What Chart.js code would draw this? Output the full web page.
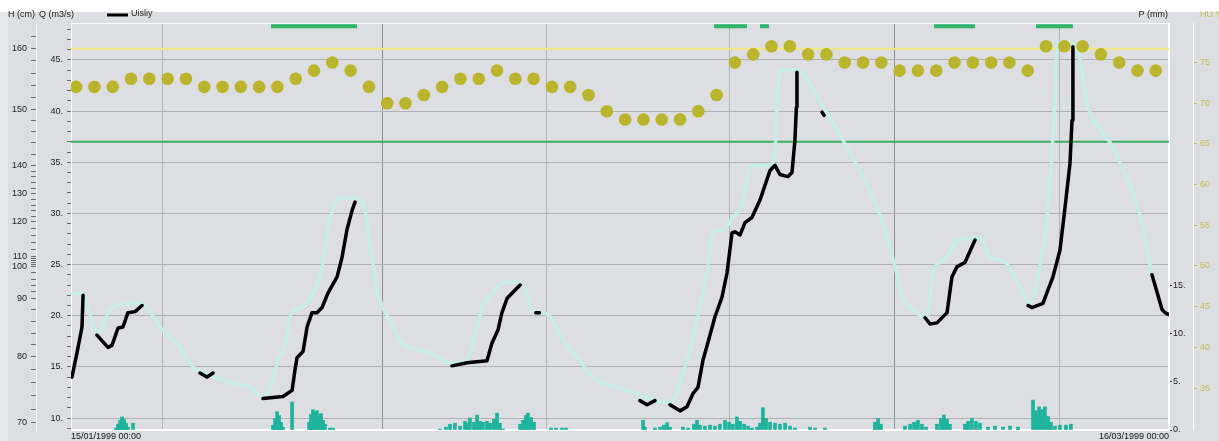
<!DOCTYPE html>
<html>
<head>
<meta charset="utf-8">
<title>Uisliy - H / Q / P / HU</title>
<script src="https://cdn.jsdelivr.net/npm/chart.js"></script>
<style>
    html, body { margin: 0; padding: 0; background: #dcdee1; }
    #wrap { width: 1219px; height: 441px; }
</style>
</head>
<body>
<div id="wrap"><canvas id="hydroChart" width="1219" height="441"></canvas></div>
<script>
// =========================================================
// Hydrograph: H / Q, rain P and soil moisture HU
// =========================================================

// ---------- Time axis (days after 15/01/1999 00:00) ----------
var dateStart = "15/01/1999 00:00";
var dateEnd = "16/03/1999 00:00";
var dayTicks = [0, 5, 17, 26, 36, 45, 54, 60];
var monthTicks = [17, 45];

// ---------- Observed Q (m3/s), "Uisliy"; null = gap ----------
var obsDay = [0.05, 0.33, 0.6, 0.66, 0.66,
    1.42, 2.02, 2.24, 2.57, 2.84, 3.11, 3.5, 3.88, 3.88,
    7.05, 7.43, 7.76, 7.76,
    10.49, 11.58, 12.08, 12.24, 12.35, 12.68, 12.9, 13.17, 13.44, 13.72, 14.04, 14.54, 14.81, 15.08, 15.36, 15.52, 15.52,
    20.82, 21.64, 22.73, 23.0, 23.33, 23.55, 23.83, 24.15, 24.54, 24.54,
    25.4, 25.6, 25.6,
    31.09, 31.48, 31.91, 31.91,
    32.73, 33.28, 33.66, 33.99, 34.26, 34.54, 34.81, 35.19, 35.57, 35.85, 36.12, 36.28, 36.56, 36.83, 37.21, 37.65, 38.2, 38.47, 38.74, 39.18, 39.4, 39.56, 39.64, 39.67, 39.67,
    41.04, 41.15, 41.15,
    46.67, 46.94, 47.32, 47.87, 48.14, 48.42, 48.85, 49.4, 49.4,
    52.3, 52.51, 53.11, 53.66, 54.04, 54.32, 54.59, 54.7, 54.75, 54.75,
    59.07, 59.62, 59.78, 60.0];
var obsQ = [14.0, 16.4, 18.9, 22.0, null,
    18.1, 16.9, 17.1, 18.8, 18.9, 20.3, 20.4, 21.0, null,
    14.4, 14.0, 14.4, null,
    11.9, 12.1, 12.7, 14.7, 15.9, 16.5, 18.9, 20.3, 20.3, 20.8, 22.2, 23.8, 25.7, 28.4, 30.3, 31.1, null,
    15.1, 15.4, 15.6, 17.3, 18.6, 20.3, 21.7, 22.3, 23.0, null,
    20.3, 20.3, null,
    11.7, 11.3, 11.7, null,
    11.3, 10.7, 11.1, 12.4, 13.0, 15.7, 17.4, 19.9, 21.8, 24.2, 28.1, 28.2, 27.9, 29.1, 29.6, 31.3, 34.2, 34.7, 33.8, 33.6, 34.0, 37.2, 40.4, 43.8, null,
    39.9, 39.6, null,
    19.8, 19.2, 19.3, 20.3, 23.8, 24.8, 25.2, 27.4, null,
    21.0, 20.8, 21.2, 23.8, 26.4, 30.6, 34.9, 39.1, 46.3, null,
    24.0, 20.6, 20.3, 20.1];

// ---------- Simulated Q (m3/s) ----------
var simDay = [0, 0.6, 1.42, 1.75, 2.02, 2.51, 3.22, 3.88, 4.32, 4.86,
    5.79, 6.67, 7.6, 8.85, 9.78, 10.49, 11.04, 11.31, 11.69, 11.97,
    12.35, 12.68, 13.33, 13.72, 14.04, 14.43, 14.81, 15.63, 16.07, 16.45,
    16.72, 16.99, 17.43, 17.98, 18.52, 19.23, 20.0, 20.71, 21.42, 21.8,
    22.19, 22.51, 23.06, 23.61, 24.37, 24.92, 25.25, 25.79, 26.17, 26.89,
    27.65, 28.52, 29.84, 30.93, 31.8, 32.57, 33.11, 33.44, 33.83, 34.21,
    34.75, 35.08, 35.63, 36.17, 36.72, 37.1, 37.49, 38.2, 38.47, 38.58,
    38.74, 39.67, 40.38, 41.09, 41.86, 42.57, 43.28, 44.04, 44.59, 45.03,
    45.46, 46.01, 46.78, 47.1, 47.49, 48.03, 48.42, 49.67, 50.22, 50.93,
    51.48, 52.02, 52.4, 52.84, 53.33, 53.66, 53.88, 54.04, 54.7, 55.14,
    55.52, 56.23, 56.94, 57.49, 58.03, 58.58, 59.07];
var simQ = [22.2, 22.2, 18.4, 18.8, 20.3, 21.0, 21.2, 21.2, 20.4, 18.9,
    17.3, 15.0, 14.2, 13.4, 13.0, 12.0, 13.7, 15.7, 16.9, 19.9,
    20.6, 20.9, 22.5, 24.8, 28.4, 31.0, 31.5, 31.5, 30.3, 25.7,
    22.8, 21.0, 19.6, 17.6, 16.8, 16.6, 16.0, 15.4, 15.5, 16.4,
    18.9, 20.9, 22.2, 23.2, 23.3, 22.2, 20.4, 20.3, 19.9, 17.6,
    16.0, 14.0, 13.0, 12.4, 11.8, 11.5, 12.4, 14.4, 16.6, 19.6,
    24.2, 28.1, 28.4, 29.6, 31.0, 34.5, 34.7, 34.7, 36.2, 40.4,
    44.0, 44.0, 42.7, 40.4, 38.2, 35.9, 33.6, 30.6, 27.7, 24.8,
    21.8, 20.6, 19.8, 24.2, 25.2, 26.1, 27.4, 27.6, 25.7, 25.4,
    24.2, 22.2, 21.2, 23.8, 29.4, 37.5, 45.7, 46.7, 46.7, 45.0,
    40.8, 38.2, 36.5, 34.2, 32.0, 28.7, 23.8];

// ---------- Daily soil moisture HU (%) ----------
var huDayOffset = 0.28;
var huValues = [72, 72, 72, 73, 73, 73, 73, 72, 72, 72,
    72, 72, 73, 74, 75, 74, 72, 70, 70, 71,
    72, 73, 73, 74, 73, 73, 72, 72, 71, 69,
    68, 68, 68, 68, 69, 71, 75, 76, 77, 77,
    76, 76, 75, 75, 75, 74, 74, 74, 75, 75,
    75, 75, 74, 77, 77, 77, 76, 75, 74, 74];

// ---------- Rain P (mm) ----------
var precipDay = [2.46, 2.57, 2.68, 2.79, 2.9, 3.01, 3.11, 3.39,
    11.04, 11.15, 11.26, 11.37, 11.48, 11.58, 12.08,
    13.01, 13.11, 13.22, 13.33, 13.44, 13.55, 13.66, 13.77, 13.88, 14.15, 14.32,
    20.16, 20.49, 20.71, 20.98, 21.26, 21.53, 21.69, 21.8, 22.02, 22.19, 22.35, 22.51, 22.73, 22.9, 23.11, 23.28, 23.44, 23.61,
    24.54, 24.7, 24.86, 24.97, 25.14, 25.3,
    26.23, 26.5, 26.83, 27.05,
    31.26, 31.37, 31.91, 32.19, 32.4, 32.57, 32.73,
    33.44, 33.72, 34.04, 34.21, 34.37, 34.64, 34.92, 35.19, 35.46, 35.74, 35.96, 36.17, 36.39, 36.56, 36.78, 37.0, 37.21,
    37.49, 37.65, 37.81, 37.98, 38.2, 38.47, 38.74, 39.02, 39.29, 39.56,
    40.38, 40.66, 41.2,
    43.93, 44.1, 44.26,
    45.57, 45.85, 46.07, 46.28, 46.5, 46.72,
    47.32, 47.54, 47.7, 47.87, 48.03,
    48.85, 49.02, 49.23, 49.45, 49.67,
    50.11, 50.49, 50.93, 51.31, 51.75,
    52.57, 52.73, 52.9, 53.06, 53.22, 53.39, 53.55,
    53.77, 54.04, 54.37, 54.64];
var precipMm = [0.2, 0.6, 1.0, 1.35, 1.1, 0.7, 0.3, 0.7,
    0.5, 1.2, 1.9, 1.5, 0.8, 0.3, 2.9,
    0.8, 1.6, 2.1, 1.8, 2.0, 1.5, 1.7, 1.0, 0.6, 0.2, 0.2,
    0.1, 0.3, 0.6, 0.7, 0.4, 0.9, 0.7, 1.25, 0.8, 1.55, 0.9, 0.8, 0.9, 0.7, 1.1, 1.75, 0.7, 0.1,
    0.6, 1.0, 1.5, 1.75, 1.3, 0.8,
    0.2, 0.2, 0.2, 0.2,
    1.0, 0.3, 0.2, 0.3, 0.5, 0.75, 0.3,
    0.3, 0.2, 0.6, 1.0, 0.5, 0.4, 0.5, 0.4, 0.6, 1.0, 0.8, 0.6, 1.35, 0.9, 0.6, 0.4, 0.2,
    0.3, 0.7, 2.3, 1.2, 0.8, 0.7, 0.6, 0.7, 0.4, 0.2,
    0.3, 0.2, 0.2,
    0.8, 1.2, 0.6,
    0.4, 0.6, 0.8, 1.0, 0.6, 0.3,
    0.6, 1.2, 1.55, 1.1, 0.6,
    0.6, 0.9, 1.2, 0.9, 0.7,
    0.3, 0.4, 0.3, 0.4, 0.3,
    3.1, 2.0, 2.4, 2.1, 2.4, 1.4, 0.8,
    0.4, 0.5, 0.5, 0.6];

// ---------- Flag periods (top green bars) and thresholds ----------
var flagStart = [10.93, 35.14, 37.65, 47.16, 52.73];
var flagEnd = [15.63, 36.94, 38.14, 49.4, 54.75];
var flagLevelQ = 48.3;
var yellowLimitQ = 46.1;
var greenLimitQ = 37.0;

// ---------- Axis ticks ----------
var hLabels = [160, 150, 140, 130, 120, 110, 100, 90, 80, 70];
var hAtQ = [46.07, 40.2, 34.7, 31.9, 29.2, 25.8, 24.8, 21.7, 16.0, 9.6];
var pTicks = [0, 5, 10, 15];
var huTicks = [35, 40, 45, 50, 55, 60, 65, 70, 75];

(function () {
    "use strict";

    var FONT = "'Liberation Sans', Arial, sans-serif";
    Chart.defaults.font.family = FONT;
    Chart.defaults.font.size = 9;

    function pairs(xs, ys) {
        return xs.map(function (x, i) { return { x: x, y: ys[i] }; });
    }

    var obsData = pairs(obsDay, obsQ);
    var simData = pairs(simDay, simQ);
    var huData = huValues.map(function (v, i) { return { x: i + huDayOffset, y: v }; });
    var precipData = pairs(precipDay, precipMm);

    var flagData = [];
    flagStart.forEach(function (s, i) {
        flagData.push({ x: s, y: flagLevelQ }, { x: flagEnd[i], y: flagLevelQ }, { x: flagEnd[i], y: null });
    });

    // H (cm) is a rating-curve axis: major labels at read positions, 2 cm minor ticks between
    function buildHTicks() {
        var t = [{ value: hAtQ[0] + (hAtQ[0] - hAtQ[1]) / 5 }];
        for (var i = 0; i < hAtQ.length; i++) {
            t.push({ value: hAtQ[i], hLabel: String(hLabels[i]) });
            if (i < hAtQ.length - 1) {
                for (var k = 1; k < 5; k++) {
                    t.push({ value: hAtQ[i] + (hAtQ[i + 1] - hAtQ[i]) * k / 5 });
                }
            }
        }
        return t;
    }

    // ---------- Background, frame and header texts ----------
    var frame = {
        id: "frame",
        beforeDraw: function (chart) {
            var ctx = chart.ctx;
            ctx.save();
            ctx.fillStyle = "#dcdee1";
            ctx.fillRect(0, 0, chart.width, chart.height);
            ctx.fillStyle = "#e6e7e9";
            ctx.fillRect(0, 12, 8, chart.height - 12);
            ctx.fillStyle = "#ffffff";
            ctx.fillRect(0, 0, chart.width, 12);
            ctx.restore();
        },
        beforeDatasetsDraw: function (chart) {
            var a = chart.chartArea, ctx = chart.ctx;
            ctx.save();
            ctx.strokeStyle = "#ffffff";
            ctx.lineWidth = 1;
            ctx.strokeRect(a.left + 0.5, a.top + 0.5, a.right - a.left - 1, a.bottom - a.top - 1);
            ctx.restore();
        },
        afterDraw: function (chart) {
            var ctx = chart.ctx;
            ctx.save();
            ctx.font = "9px " + FONT;
            ctx.textBaseline = "middle";
            ctx.fillStyle = "#222222";
            ctx.textAlign = "left";
            ctx.fillText("H (cm)", 8, 15);
            ctx.fillText("Q (m3/s)", 39, 15);
            ctx.fillText("Uisliy", 131, 14);
            ctx.strokeStyle = "#000000";
            ctx.lineWidth = 3;
            ctx.beginPath();
            ctx.moveTo(107, 15);
            ctx.lineTo(128, 15);
            ctx.stroke();
            ctx.textAlign = "right";
            ctx.fillText("P (mm)", 1168, 15);
            ctx.textAlign = "left";
            ctx.fillStyle = "#c4bd57";
            ctx.fillText("HU %", 1200, 15);
            ctx.restore();
        }
    };

    var canvas = document.getElementById("hydroChart");
    new Chart(canvas.getContext("2d"), {
        type: "line",
        data: {
            datasets: [
                {
                    label: "Uisliy",
                    data: obsData,
                    yAxisID: "yQ",
                    borderColor: "#000000",
                    borderWidth: 3.5,
                    borderJoinStyle: "round",
                    borderCapStyle: "round",
                    pointRadius: 0,
                    spanGaps: false,
                    order: 1
                },
                {
                    label: "HU",
                    data: huData,
                    yAxisID: "yHU",
                    showLine: false,
                    pointRadius: 6.3,
                    pointBackgroundColor: "#bab52c",
                    pointBorderWidth: 0,
                    order: 2
                },
                {
                    label: "Q sim",
                    data: simData,
                    yAxisID: "yQ",
                    borderColor: "#c6ede6",
                    borderWidth: 3.5,
                    borderJoinStyle: "round",
                    cubicInterpolationMode: "monotone",
                    pointRadius: 0,
                    order: 4
                },
                {
                    label: "flags",
                    data: flagData,
                    yAxisID: "yQ",
                    borderColor: "#2cb56b",
                    borderWidth: 4,
                    borderCapStyle: "butt",
                    pointRadius: 0,
                    spanGaps: false,
                    order: 5
                },
                {
                    label: "limit",
                    data: [{ x: 0, y: yellowLimitQ }, { x: 60, y: yellowLimitQ }],
                    yAxisID: "yQ",
                    borderColor: "#f3e77f",
                    borderWidth: 2,
                    pointRadius: 0,
                    order: 6
                },
                {
                    label: "alert",
                    data: [{ x: 0, y: greenLimitQ }, { x: 60, y: greenLimitQ }],
                    yAxisID: "yQ",
                    borderColor: "#39ae62",
                    borderWidth: 2,
                    pointRadius: 0,
                    order: 6
                },
                {
                    type: "bar",
                    label: "P",
                    data: precipData,
                    yAxisID: "yP",
                    backgroundColor: "#1db39c",
                    barThickness: 3,
                    order: 7
                }
            ]
        },
        options: {
            responsive: false,
            animation: false,
            events: [],
            layout: { padding: { top: 23, left: 0, right: 0, bottom: 0 } },
            plugins: {
                legend: { display: false },
                tooltip: { enabled: false }
            },
            scales: {
                x: {
                    type: "linear",
                    min: 0,
                    max: 60,
                    offset: false,
                    afterBuildTicks: function (s) {
                        s.ticks = dayTicks.map(function (v) { return { value: v }; });
                    },
                    afterFit: function (s) { s.height = 11; },
                    ticks: {
                        autoSkip: false,
                        maxRotation: 0,
                        align: "inner",
                        padding: 1,
                        color: "#111111",
                        callback: function (v) {
                            if (v === 0) return dateStart;
                            if (v === 60) return dateEnd;
                            return "";
                        }
                    },
                    grid: {
                        offset: false,
                        drawTicks: false,
                        color: function (c) {
                            var v = c.tick ? c.tick.value : null;
                            if (v === 0 || v === 60) return "rgba(0,0,0,0)";
                            return monthTicks.indexOf(v) >= 0 ? "#8e9093" : "#b1b3b6";
                        }
                    },
                    border: { color: "#ffffff" }
                },
                yQ: {
                    type: "linear",
                    position: "left",
                    weight: 0,
                    min: 8.83,
                    max: 48.61,
                    afterBuildTicks: function (s) {
                        var t = [];
                        for (var v = 9; v <= 48; v++) t.push({ value: v });
                        s.ticks = t;
                    },
                    afterFit: function (s) { s.width = 35; },
                    ticks: {
                        autoSkip: false,
                        padding: 4,
                        color: "#222222",
                        callback: function (v) { return v % 5 === 0 ? v + "." : ""; }
                    },
                    grid: {
                        color: function (c) {
                            return c.tick && c.tick.value % 5 === 0 ? "#b0b2b5" : "rgba(0,0,0,0)";
                        },
                        tickColor: "#6a6c6f",
                        tickLength: 4
                    },
                    border: { color: "#ffffff" }
                },
                yH: {
                    type: "linear",
                    position: "left",
                    weight: 1,
                    min: 8.83,
                    max: 48.61,
                    afterBuildTicks: function (s) { s.ticks = buildHTicks(); },
                    afterFit: function (s) { s.width = 36; },
                    ticks: {
                        autoSkip: false,
                        padding: 4,
                        color: "#222222",
                        callback: function (v, i, t) { return t[i].hLabel || ""; }
                    },
                    grid: { drawOnChartArea: false, tickColor: "#6a6c6f", tickLength: 5 },
                    border: { color: "#f2f2f2" }
                },
                yP: {
                    type: "linear",
                    position: "right",
                    weight: 0,
                    min: 0,
                    max: 42.18,
                    afterBuildTicks: function (s) {
                        s.ticks = pTicks.map(function (v) { return { value: v }; });
                    },
                    afterFit: function (s) { s.width = 24; },
                    ticks: {
                        autoSkip: false,
                        padding: 1,
                        color: "#222222",
                        callback: function (v) { return v + "."; }
                    },
                    grid: { drawOnChartArea: false, tickColor: "#333333", tickLength: 3 },
                    border: { color: "#ffffff" }
                },
                yHU: {
                    type: "linear",
                    position: "right",
                    weight: 1,
                    min: 29.85,
                    max: 79.85,
                    afterBuildTicks: function (s) {
                        s.ticks = huTicks.map(function (v) { return { value: v }; });
                    },
                    afterFit: function (s) { s.width = 26; },
                    ticks: {
                        autoSkip: false,
                        padding: 3,
                        color: "#c4bd57",
                        callback: function (v) { return String(v); }
                    },
                    grid: { drawOnChartArea: false, tickColor: "#c4bd57", tickLength: 4 },
                    border: { color: "#ffffff" }
                }
            }
        },
        plugins: [frame]
    });
})();
</script>
</body>
</html>
